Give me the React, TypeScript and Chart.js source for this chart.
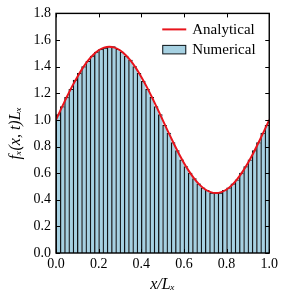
import React, { useEffect, useRef } from "react";
import { Chart, registerables } from "chart.js";

Chart.register(...registerables);

// Histogram bin centres (x / L_x)
const binCenters = [
  0.01, 0.03, 0.05, 0.07, 0.09, 0.11, 0.13, 0.15, 0.17, 0.19,
  0.21, 0.23, 0.25, 0.27, 0.29, 0.31, 0.33, 0.35, 0.37, 0.39,
  0.41, 0.43, 0.45, 0.47, 0.49, 0.51, 0.53, 0.55, 0.57, 0.59,
  0.61, 0.63, 0.65, 0.67, 0.69, 0.71, 0.73, 0.75, 0.77, 0.79,
  0.81, 0.83, 0.85, 0.87, 0.89, 0.91, 0.93, 0.95, 0.97, 0.99,
];

// Numerical histogram heights
const numericalValues = [
  1.04, 1.1, 1.17, 1.23, 1.3, 1.35, 1.4, 1.44, 1.48, 1.51,
  1.53, 1.54, 1.55, 1.55, 1.53, 1.51, 1.48, 1.45, 1.4, 1.35,
  1.29, 1.23, 1.17, 1.1, 1.04, 0.96, 0.9, 0.83, 0.77, 0.7,
  0.65, 0.6, 0.56, 0.52, 0.49, 0.47, 0.45, 0.45, 0.45, 0.47,
  0.49, 0.52, 0.55, 0.6, 0.65, 0.7, 0.77, 0.83, 0.9, 0.96,
];

// Analytical curve samples
const analyticX = [
  0, 0.025, 0.05, 0.075, 0.1, 0.125, 0.15, 0.175, 0.2, 0.225,
  0.25, 0.275, 0.3, 0.325, 0.35, 0.375, 0.4, 0.425, 0.45, 0.475,
  0.5, 0.525, 0.55, 0.575, 0.6, 0.625, 0.65, 0.675, 0.7, 0.725,
  0.75, 0.775, 0.8, 0.825, 0.85, 0.875, 0.9, 0.925, 0.95, 0.975, 1.0,
];
const analyticY = [
  1.0, 1.086, 1.17, 1.25, 1.323, 1.389, 1.445, 1.49, 1.523, 1.543,
  1.55, 1.543, 1.523, 1.49, 1.445, 1.389, 1.323, 1.25, 1.17, 1.086,
  1.0, 0.914, 0.83, 0.75, 0.677, 0.611, 0.555, 0.51, 0.477, 0.457,
  0.45, 0.457, 0.477, 0.51, 0.555, 0.611, 0.677, 0.75, 0.83, 0.914, 1.0,
];

const xTicks = [0, 0.2, 0.4, 0.6, 0.8, 1.0];
const yTicks = [0, 0.2, 0.4, 0.6, 0.8, 1.0, 1.2, 1.4, 1.6, 1.8];

const seriesNames = ["Analytical", "Numerical"];

const FONT = "'Liberation Serif', 'DejaVu Serif', serif";
const LINE_COLOR = "#e8141c";
const BAR_FILL = "#a6d1e2";
const BAR_EDGE = "#111518";

const framePlugin = {
  id: "frameTicks",
  afterDraw(chart: any) {
    const { ctx, chartArea } = chart;
    const { left, right, top, bottom } = chartArea;
    const xs = chart.scales.x;
    const ys = chart.scales.y;
    const tl = 4;
    ctx.save();
    ctx.strokeStyle = "#000";
    ctx.lineWidth = 1;
    ctx.beginPath();
    xTicks.forEach((v) => {
      const px = Math.round(xs.getPixelForValue(v)) + 0.5;
      ctx.moveTo(px, bottom);
      ctx.lineTo(px, bottom - tl);
      ctx.moveTo(px, top);
      ctx.lineTo(px, top + tl);
    });
    yTicks.forEach((v) => {
      const py = Math.round(ys.getPixelForValue(v)) + 0.5;
      ctx.moveTo(left, py);
      ctx.lineTo(left + tl, py);
      ctx.moveTo(right, py);
      ctx.lineTo(right - tl, py);
    });
    ctx.stroke();
    ctx.lineWidth = 1.4;
    ctx.strokeRect(left, top, right - left, bottom - top);

    // legend
    const lx0 = right - 107;
    const lx1 = right - 83;
    const tx = right - 77;
    const y1 = top + 16;
    const y2 = top + 36;
    ctx.font = `15px ${FONT}`;
    ctx.textBaseline = "middle";
    ctx.textAlign = "left";
    ctx.strokeStyle = LINE_COLOR;
    ctx.lineWidth = 2;
    ctx.beginPath();
    ctx.moveTo(lx0, y1);
    ctx.lineTo(lx1, y1);
    ctx.stroke();
    ctx.fillStyle = "#000";
    ctx.fillText(chart.data.datasets[0].label, tx, y1 + 0.5);
    ctx.fillStyle = BAR_FILL;
    ctx.fillRect(lx0, y2 - 4.5, lx1 - lx0, 9);
    ctx.strokeStyle = BAR_EDGE;
    ctx.lineWidth = 1;
    ctx.strokeRect(lx0 + 0.5, y2 - 4, lx1 - lx0 - 1, 8.5);
    ctx.fillStyle = "#000";
    ctx.fillText(chart.data.datasets[1].label, tx, y2 + 0.5);
    ctx.restore();
  },
};

export default function App() {
  const ref = useRef<HTMLCanvasElement | null>(null);

  useEffect(() => {
    document.body.style.margin = "0";
    const canvas = ref.current;
    if (!canvas) return;
    const chart = new Chart(canvas, {
      type: "bar",
      data: {
        datasets: [
          {
            type: "line",
            label: seriesNames[0],
            data: analyticX.map((x, i) => ({ x, y: analyticY[i] })),
            borderColor: LINE_COLOR,
            borderWidth: 2,
            pointRadius: 0,
            tension: 0.3,
            order: 0,
          } as any,
          {
            type: "bar",
            label: seriesNames[1],
            data: binCenters.map((x, i) => ({ x, y: numericalValues[i] })),
            backgroundColor: BAR_FILL,
            borderColor: BAR_EDGE,
            borderWidth: { left: 1.3, top: 1, right: 0, bottom: 0 },
            borderSkipped: false,
            barPercentage: 1,
            categoryPercentage: 1,
            order: 1,
          } as any,
        ],
      },
      options: {
        responsive: false,
        animation: false,
        devicePixelRatio: 1,
        layout: { padding: { top: 12, right: 9, left: 0, bottom: 0 } },
        plugins: {
          legend: { display: false },
          tooltip: { enabled: false },
        },
        scales: {
          x: {
            type: "linear",
            min: 0,
            max: 1,
            offset: false,
            grid: { display: false, drawTicks: false },
            border: { display: false },
            afterFit: (s: any) => {
              s.height = 40;
            },
            afterBuildTicks: (s: any) => {
              s.ticks = xTicks.map((v) => ({ value: v }));
            },
            ticks: {
              padding: 3,
              color: "#000",
              font: { family: FONT, size: 14 },
              callback: (v: any) => Number(v).toFixed(1),
              maxRotation: 0,
              autoSkip: false,
            },
            title: {
              display: true,
              text: "x/Lₓ",
              color: "#000",
              font: { family: FONT, size: 16, style: "italic", lineHeight: 1 },
              padding: { top: 0, bottom: 0 },
            },
          },
          y: {
            type: "linear",
            min: 0,
            max: 1.8,
            grid: { display: false, drawTicks: false },
            border: { display: false },
            afterFit: (s: any) => {
              s.width = 56;
            },
            afterBuildTicks: (s: any) => {
              s.ticks = yTicks.map((v) => ({ value: v }));
            },
            ticks: {
              padding: 5,
              color: "#000",
              font: { family: FONT, size: 14 },
              callback: (v: any) => Number(v).toFixed(1),
              autoSkip: false,
            },
            title: {
              display: true,
              text: "fₓ(x, t)Lₓ",
              color: "#000",
              font: { family: FONT, size: 16, style: "italic", lineHeight: 1 },
              padding: { top: 8, bottom: 0 },
            },
          },
        },
      },
      plugins: [framePlugin],
    });
    return () => chart.destroy();
  }, []);

  return (
    <div style={{ position: "absolute", left: 0, top: 0, width: 281, height: 293 }}>
      <canvas ref={ref} width={281} height={293} style={{ width: 281, height: 293 }} />
    </div>
  );
}
